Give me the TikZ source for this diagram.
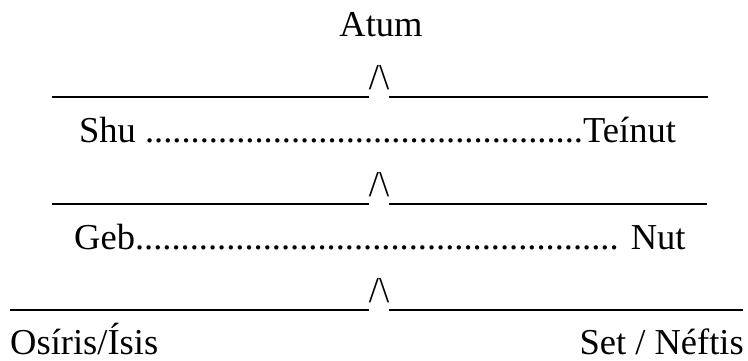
\documentclass[tikz,border=0pt]{standalone}
\usepackage{fontspec}
\setmainfont{Liberation Serif}
\begin{document}
\begin{tikzpicture}[x=1pt,y=-1pt,
  txt/.style={inner sep=0pt, font=\rmfamily\fontsize{36.5}{40}\selectfont},
  rulebar/.style={line width=2pt}]
\useasboundingbox (0,0) rectangle (748,360);
% text rows
\node[txt, anchor=base] (atum) at (381,36) {Atum};
\node[txt, anchor=base west] (shu) at (79,142.5) {Shu ................................................Teínut};
\node[txt, anchor=base west] (geb) at (74,249) {Geb..................................................... Nut};
\node[txt, anchor=base west] (osiris) at (10,354) {Osíris/Ísis};
\node[txt, anchor=base east] (set) at (744,354) {Set / Néftis};
% peaks
\node[txt, anchor=base] (p1) at (379,89.5) {/\textbackslash};
\node[txt, anchor=base] (p2) at (379,196.5) {/\textbackslash};
\node[txt, anchor=base] (p3) at (379,302.5) {/\textbackslash};
% rule ends
\coordinate (a1) at (52,97);  \coordinate (b1) at (369,97);
\coordinate (c1) at (389,97); \coordinate (d1) at (708,97);
\coordinate (a2) at (52,204);  \coordinate (b2) at (369,204);
\coordinate (c2) at (389,204); \coordinate (d2) at (707,204);
\coordinate (a3) at (10,310);  \coordinate (b3) at (369,310);
\coordinate (c3) at (389,310); \coordinate (d3) at (743,310);
\draw[rulebar] (a1) -- (b1);
\draw[rulebar] (c1) -- (d1);
\draw[rulebar] (a2) -- (b2);
\draw[rulebar] (c2) -- (d2);
\draw[rulebar] (a3) -- (b3);
\draw[rulebar] (c3) -- (d3);
\end{tikzpicture}
\end{document}
